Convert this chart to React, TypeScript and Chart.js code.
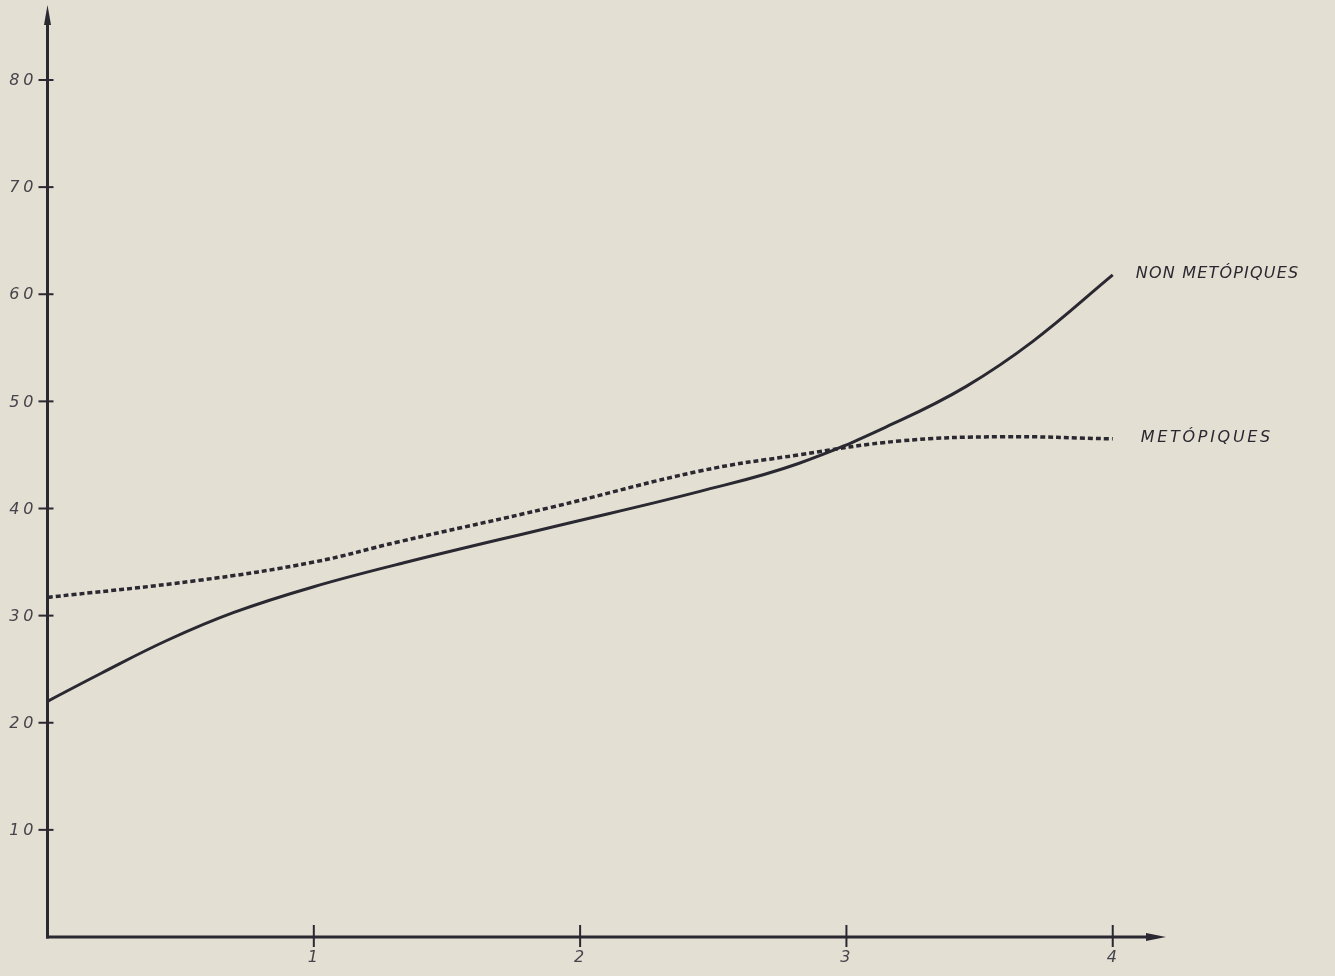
import React, { useEffect, useRef } from "react";
import { Chart, registerables } from "chart.js";

Chart.register(...registerables);

// x positions (abscissa units) and values
const nonMetopiquesX = [0, 0.2, 0.45, 0.7, 1.0, 1.35, 1.9, 2.45, 2.82, 3.2, 3.45, 3.7, 4.0];
const nonMetopiquesY = [22.0, 24.6, 27.7, 30.3, 32.7, 35.0, 38.3, 41.6, 44.2, 48.2, 51.4, 55.6, 61.8];

const metopiquesX = [0, 0.57, 1.0, 1.32, 1.89, 2.45, 2.82, 3.2, 3.58, 4.0];
const metopiquesY = [31.7, 33.3, 35.0, 36.9, 40.1, 43.5, 45.0, 46.3, 46.7, 46.5];

const yTicks = [10, 20, 30, 40, 50, 60, 70, 80];
const yTickLabels = ["10", "20", "30", "40", "50", "60", "70", "80"];
const xTicks = [1, 2, 3, 4];
const xTickLabels = ["1", "2", "3", "4"];

const seriesLabels = ["NON METÓPIQUES", "METÓPIQUES"];

const INK = "#2a2830";
const LABEL_INK = "#45434b";
const BG = "#e4dfd3";

const decorPlugin = {
  id: "decor",
  afterDatasetsDraw(chart: any) {
    const { ctx, chartArea, scales } = chart;
    const xs = scales.x;
    const ys = scales.y;
    const x0 = xs.getPixelForValue(0);
    const y0 = ys.getPixelForValue(0);
    ctx.save();
    ctx.strokeStyle = INK;
    ctx.fillStyle = INK;
    ctx.lineWidth = 3;
    ctx.lineCap = "butt";
    // y axis
    ctx.beginPath();
    ctx.moveTo(x0, y0 + 1.5);
    ctx.lineTo(x0, chartArea.top + 14);
    ctx.stroke();
    ctx.beginPath();
    ctx.moveTo(x0, chartArea.top);
    ctx.lineTo(x0 - 3.5, chartArea.top + 20);
    ctx.lineTo(x0 + 3.5, chartArea.top + 20);
    ctx.closePath();
    ctx.fill();
    // x axis
    ctx.beginPath();
    ctx.moveTo(x0 - 1.5, y0);
    ctx.lineTo(chartArea.right - 14, y0);
    ctx.stroke();
    ctx.beginPath();
    ctx.moveTo(chartArea.right, y0);
    ctx.lineTo(chartArea.right - 20, y0 - 4);
    ctx.lineTo(chartArea.right - 20, y0 + 4);
    ctx.closePath();
    ctx.fill();

    // y ticks
    ctx.lineWidth = 2;
    yTicks.forEach((v, i) => {
      const py = ys.getPixelForValue(v);
      ctx.strokeStyle = INK;
      ctx.beginPath();
      ctx.moveTo(x0 - 9, py);
      ctx.lineTo(x0 + 6, py);
      ctx.stroke();
      ctx.fillStyle = LABEL_INK;
      ctx.font = "italic 16px 'DejaVu Sans'";
      (ctx as any).letterSpacing = "4px";
      ctx.textAlign = "right";
      ctx.textBaseline = "middle";
      ctx.fillText(yTickLabels[i], x0 - 10, py + 1);
    });
    (ctx as any).letterSpacing = "0px";
    // x ticks
    xTicks.forEach((v, i) => {
      const px = xs.getPixelForValue(v);
      ctx.strokeStyle = INK;
      ctx.beginPath();
      ctx.moveTo(px, y0 - 12);
      ctx.lineTo(px, y0 + 10);
      ctx.stroke();
      ctx.fillStyle = LABEL_INK;
      ctx.font = "italic 16px 'DejaVu Sans'";
      ctx.textAlign = "center";
      ctx.textBaseline = "middle";
      ctx.fillText(xTickLabels[i], px - 1, y0 + 21);
    });

    // series labels at line ends
    ctx.fillStyle = INK;
    ctx.font = "italic 16px 'DejaVu Sans'";
    ctx.textAlign = "left";
    ctx.textBaseline = "middle";
    (ctx as any).letterSpacing = "1.2px";
    const n1 = nonMetopiquesX.length - 1;
    ctx.fillText(
      seriesLabels[0],
      xs.getPixelForValue(nonMetopiquesX[n1]) + 23,
      ys.getPixelForValue(nonMetopiquesY[n1]) - 1
    );
    const n2 = metopiquesX.length - 1;
    (ctx as any).letterSpacing = "2.7px";
    ctx.fillText(
      seriesLabels[1],
      xs.getPixelForValue(metopiquesX[n2]) + 28,
      ys.getPixelForValue(metopiquesY[n2]) - 1
    );
    ctx.restore();
  },
};

export default function App() {
  const ref = useRef<HTMLCanvasElement | null>(null);
  useEffect(() => {
    if (!ref.current) return;
    const chart = new Chart(ref.current, {
      type: "line",
      data: {
        datasets: [
          {
            label: seriesLabels[0],
            data: nonMetopiquesX.map((x, i) => ({ x, y: nonMetopiquesY[i] })),
            borderColor: INK,
            borderWidth: 3,
            pointRadius: 0,
            tension: 0.4,
            fill: false,
          },
          {
            label: seriesLabels[1],
            data: metopiquesX.map((x, i) => ({ x, y: metopiquesY[i] })),
            borderColor: INK,
            borderWidth: 3.5,
            borderDash: [5, 3],
            pointRadius: 0,
            tension: 0.4,
            fill: false,
          },
        ],
      },
      options: {
        animation: false,
        responsive: false,
        layout: { padding: { top: 5, right: 169, left: 0, bottom: 0 } },
        plugins: { legend: { display: false }, tooltip: { enabled: false } },
        scales: {
          x: {
            type: "linear",
            min: 0,
            max: 4.2,
            ticks: { display: false },
            grid: { display: false },
            border: { display: false },
            afterFit: (axis: any) => {
              axis.height = 39;
            },
          },
          y: {
            min: 0,
            max: 87,
            ticks: { display: false },
            grid: { display: false },
            border: { display: false },
            afterFit: (axis: any) => {
              axis.width = 47.5;
            },
          },
        },
      },
      plugins: [decorPlugin],
    });
    return () => chart.destroy();
  }, []);
  return (
    <div
      style={{
        position: "fixed",
        left: 0,
        top: 0,
        width: 1335,
        height: 976,
        background: BG,
      }}
    >
      <canvas ref={ref} width={1335} height={976} style={{ display: "block" }} />
    </div>
  );
}
